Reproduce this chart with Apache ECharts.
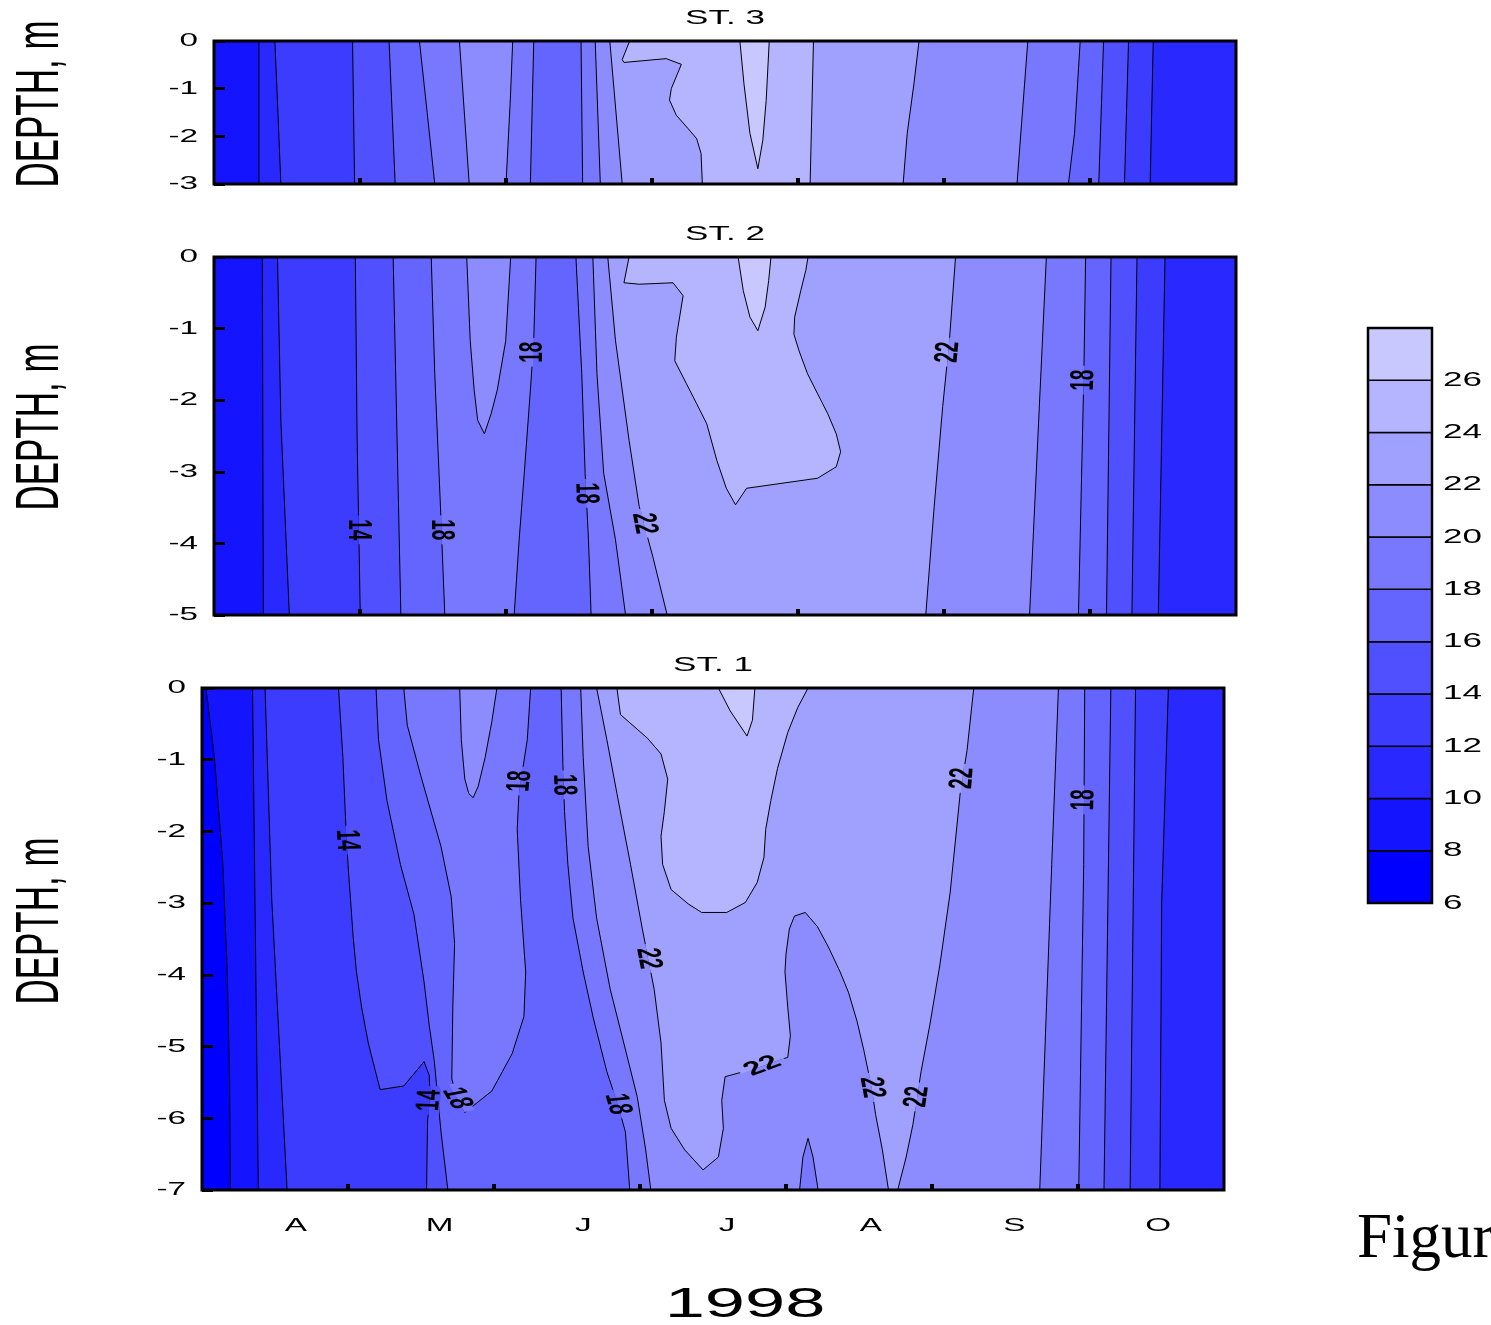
<!DOCTYPE html>
<html><head><meta charset="utf-8">
<script src="https://cdn.jsdelivr.net/npm/echarts@6/dist/echarts.min.js"></script>
<style>html,body{margin:0;padding:0;background:#fff}#c{width:1491px;height:1325px}</style>
</head><body><div id="c"></div>
<script>
// ---------------- DATA ----------------
// temperature class limits (deg C) and colours of the classes
const LEVELS = [6, 8, 10, 12, 14, 16, 18, 20, 22, 24, 26, 28];
const BAND_COLORS = ['#0000ff','#1414ff','#2828ff','#3c3cff','#5050ff','#6464ff','#7878ff','#8c8cff','#a0a0ff','#b4b4ff','#c8c8ff'];
const COLORBAR_TICKS = [6, 8, 10, 12, 14, 16, 18, 20, 22, 24, 26];
// x = month number (4 = 1 April ... 11 = 1 November 1998)
const MONTH_TICKS = [5, 6, 7, 8, 9, 10];
const MONTH_LABELS = ['A', 'M', 'J', 'J', 'A', 'S', 'O'];
const YEAR_LABEL = '1998';
const DEPTH_TICKS_ST3 = [0, -1, -2, -3];
const DEPTH_TICKS_ST2 = [0, -1, -2, -3, -4, -5];
const DEPTH_TICKS_ST1 = [0, -1, -2, -3, -4, -5, -6, -7];

// isotherms: [month, depth] points
const st3Isolines = [
  {id:'a', level:10, pts:[[4.308,0],[4.308,-3]]},
  {id:'b', level:12, pts:[[4.417,0],[4.438,-1.5],[4.458,-3]]},
  {id:'c', level:14, pts:[[4.949,0],[4.963,-3]]},
  {id:'d', level:16, pts:[[5.199,0],[5.241,-3]]},
  {id:'e', level:18, pts:[[5.407,0],[5.46,-1.5],[5.512,-3]]},
  {id:'f', level:20, pts:[[5.681,0],[5.748,-3]]},
  {id:'g', level:20, pts:[[6.046,0],[6.03,-1.2],[6.0,-3]]},
  {id:'h', level:18, pts:[[6.19,0],[6.167,-3]]},
  {id:'i', level:18, pts:[[6.514,0],[6.525,-3]]},
  {id:'j', level:20, pts:[[6.611,0],[6.646,-3]]},
  {id:'k', level:22, pts:[[6.711,0],[6.796,-3]]},
  {id:'C', level:24, pts:[[6.847,0],[6.796,-0.39],[6.808,-0.45],[7.097,-0.37],[7.201,-0.49],[7.132,-1.0],[7.12,-1.24],[7.167,-1.56],[7.248,-1.84],[7.306,-2.05],[7.336,-2.36],[7.345,-3]]},
  {id:'S', level:26, pts:[[7.602,0],[7.63,-0.9],[7.671,-1.94],[7.725,-2.68],[7.759,-2.08],[7.782,-1.245],[7.803,0]]},
  {id:'l', level:24, pts:[[8.106,0],[8.083,-3]]},
  {id:'m', level:22, pts:[[8.829,0],[8.794,-0.9],[8.748,-1.94],[8.72,-3]]},
  {id:'n', level:20, pts:[[9.574,0],[9.5,-3]]},
  {id:'o', level:18, pts:[[9.933,0],[9.894,-1.94],[9.852,-3]]},
  {id:'p', level:16, pts:[[10.093,0],[10.06,-3]]},
  {id:'q', level:14, pts:[[10.264,0],[10.236,-3]]},
  {id:'r', level:12, pts:[[10.433,0],[10.412,-3]]}
];
const st3Regions = [['a','BR','TR'],['b','-r'],['c','-q'],['d','-p'],['e','-h'],['i','-o'],['f','-g'],['j','-n'],['k','-m'],['C','-l'],['S']];
const st3Labels = [];

const st2Isolines = [
  {id:'A1', level:10, pts:[[4.331,0],[4.338,-5]]},
  {id:'A2', level:12, pts:[[4.435,0],[4.458,-2.28],[4.516,-5]]},
  {id:'A3', level:14, pts:[[4.968,0],[4.98,-2.5],[5.002,-5]]},
  {id:'A4', level:16, pts:[[5.227,0],[5.28,-5]]},
  {id:'A5', level:18, pts:[[5.488,0],[5.512,-1.63],[5.551,-3.48],[5.581,-5]]},
  {id:'A6', level:20, pts:[[5.731,0],[5.755,-1.17],[5.782,-1.86],[5.806,-2.28],[5.852,-2.47],[5.898,-2.19],[5.94,-1.86],[5.998,-1.17],[6.032,0]]},
  {id:'A7', level:18, pts:[[6.206,0],[6.19,-1.17],[6.167,-1.86],[6.125,-3.02],[6.09,-3.95],[6.056,-5]]},
  {id:'A8', level:18, pts:[[6.479,0],[6.519,-1.63],[6.542,-3.02],[6.565,-3.95],[6.583,-5]]},
  {id:'A9', level:20, pts:[[6.595,0],[6.623,-1.63],[6.669,-3.02],[6.75,-3.95],[6.819,-5]]},
  {id:'A10', level:22, pts:[[6.697,0],[6.75,-1.17],[6.843,-2.56],[6.912,-3.48],[7.005,-4.18],[7.104,-5]]},
  {id:'C2', level:24, pts:[[6.843,0],[6.808,-0.36],[6.912,-0.38],[7.144,-0.36],[7.213,-0.54],[7.167,-1.12],[7.156,-1.45],[7.236,-1.77],[7.306,-2.05],[7.375,-2.33],[7.444,-2.84],[7.509,-3.23],[7.572,-3.46],[7.648,-3.23],[8.134,-3.09],[8.262,-2.93],[8.292,-2.72],[8.262,-2.47],[8.204,-2.19],[8.134,-1.91],[8.065,-1.63],[8.007,-1.31],[7.972,-1.08],[7.977,-0.84],[8.019,-0.47],[8.053,-0.19],[8.069,0]]},
  {id:'S2', level:26, pts:[[7.59,0],[7.625,-0.47],[7.671,-0.84],[7.725,-1.03],[7.775,-0.7],[7.799,-0.33],[7.815,0]]},
  {id:'A11', level:22, pts:[[9.079,0],[9.037,-1.17],[8.991,-2.09],[8.933,-3.48],[8.875,-5]]},
  {id:'A12', level:20, pts:[[9.701,0],[9.586,-5]]},
  {id:'A13', level:18, pts:[[9.97,0],[9.958,-1.63],[9.921,-5]]},
  {id:'A14', level:16, pts:[[10.144,0],[10.113,-5]]},
  {id:'A15', level:14, pts:[[10.322,0],[10.287,-5]]},
  {id:'A16', level:12, pts:[[10.514,0],[10.468,-5]]}
];
const st2Regions = [['A1','BR','TR'],['A2','-A16'],['A3','-A15'],['A4','-A14'],['A5','-A7'],['A8','-A13'],['A6'],['A9','-A12'],['A10','-A11'],['C2'],['S2']];
// [month, depth, text, angle of the text as seen (deg)]
const st2Labels = [
  [4.99,-3.81,'14',-90],[5.557,-3.81,'18',-90],[6.185,-1.33,'18',90],[6.546,-3.30,'18',-88],
  [6.944,-3.72,'22',-79],[9.029,-1.33,'22',85],[9.958,-1.72,'18',88]
];

const st1Isolines = [
  {id:'B1', level:8, pts:[[4.027,0],[4.085,-0.97],[4.143,-2.46],[4.173,-3.96],[4.189,-5.45],[4.194,-7]]},
  {id:'B2', level:10, pts:[[4.346,0],[4.366,-3.5],[4.386,-7]]},
  {id:'B3', level:12, pts:[[4.432,0],[4.478,-2.96],[4.583,-7]]},
  {id:'B4', level:14, pts:[[4.935,0],[4.965,-0.97],[4.984,-1.87],[5.0,-2.46],[5.035,-3.46],[5.058,-3.96],[5.093,-4.45],[5.139,-4.95],[5.22,-5.6],[5.382,-5.55],[5.521,-5.21],[5.556,-5.4],[5.563,-5.7],[5.545,-6.04],[5.538,-7]]},
  {id:'B5', level:16, pts:[[5.192,0],[5.209,-0.72],[5.267,-1.57],[5.359,-2.46],[5.452,-3.16],[5.521,-4.1],[5.556,-4.7],[5.591,-5.2],[5.637,-6.19],[5.684,-7]]},
  {id:'B6', level:18, pts:[[5.382,0],[5.406,-0.52],[5.498,-1.22],[5.637,-2.21],[5.707,-2.91],[5.73,-3.56],[5.718,-4.45],[5.711,-5.45],[5.753,-5.77],[5.8,-5.92],[5.985,-5.62],[6.124,-5.1],[6.205,-4.58],[6.217,-3.96],[6.182,-2.96],[6.159,-1.97],[6.171,-1.47],[6.228,-0.72],[6.251,0]]},
  {id:'B7', level:20, pts:[[5.765,0],[5.776,-0.72],[5.8,-1.27],[5.827,-1.47],[5.857,-1.53],[5.892,-1.37],[5.939,-0.97],[5.985,-0.47],[6.02,0]]},
  {id:'B8', level:18, pts:[[6.46,0],[6.472,-1.07],[6.483,-1.72],[6.506,-2.46],[6.541,-3.21],[6.611,-3.96],[6.68,-4.6],[6.773,-5.35],[6.847,-5.8],[6.9,-6.19],[6.93,-7]]},
  {id:'B9', level:20, pts:[[6.594,0],[6.611,-0.97],[6.645,-2.21],[6.703,-3.21],[6.796,-4.2],[6.889,-4.95],[6.981,-5.7],[7.039,-6.44],[7.074,-7]]},
  {id:'T20', level:20, pts:[[8.093,-7],[8.116,-6.54],[8.151,-6.28],[8.185,-6.54],[8.22,-7]]},
  {id:'B10', level:22, pts:[[6.703,0],[6.773,-0.72],[6.842,-1.47],[6.935,-2.46],[7.016,-3.36],[7.097,-4.2],[7.144,-4.95],[7.167,-5.75],[7.213,-6.14],[7.306,-6.44],[7.432,-6.72],[7.537,-6.54],[7.571,-6.14],[7.56,-5.75],[7.583,-5.42],[7.71,-5.35],[7.838,-5.27],[8.012,-5.15],[8.03,-4.85],[8.012,-4.45],[7.993,-3.96],[8.0,-3.71],[8.023,-3.36],[8.058,-3.18],[8.132,-3.13],[8.216,-3.33],[8.29,-3.61],[8.371,-3.96],[8.429,-4.25],[8.487,-4.65],[8.533,-5.05],[8.586,-5.57],[8.614,-5.95],[8.66,-6.44],[8.702,-7]]},
  {id:'R22', level:22, pts:[[9.286,0],[9.24,-0.87],[9.193,-1.47],[9.124,-2.86],[9.054,-3.86],[8.985,-4.7],[8.925,-5.35],[8.869,-6.09],[8.823,-6.54],[8.765,-7]]},
  {id:'C1', level:24, pts:[[6.842,0],[6.866,-0.37],[7.051,-0.7],[7.144,-0.92],[7.19,-1.27],[7.167,-1.72],[7.144,-2.07],[7.155,-2.46],[7.213,-2.81],[7.33,-3.01],[7.422,-3.13],[7.594,-3.13],[7.722,-2.99],[7.803,-2.71],[7.849,-2.36],[7.861,-1.97],[7.896,-1.57],[7.942,-1.12],[8.012,-0.62],[8.081,-0.27],[8.151,0]]},
  {id:'S1', level:26, pts:[[7.537,0],[7.618,-0.32],[7.733,-0.67],[7.77,-0.45],[7.787,0]]},
  {id:'B12', level:20, pts:[[9.866,0],[9.82,-2.46],[9.738,-7]]},
  {id:'B13', level:18, pts:[[10.046,0],[10.039,-2.46],[10.005,-7]]},
  {id:'B14', level:16, pts:[[10.225,0],[10.178,-7]]},
  {id:'B15', level:14, pts:[[10.394,0],[10.357,-7]]},
  {id:'B16', level:12, pts:[[10.619,0],[10.573,-3],[10.561,-7]]}
];
const st1Regions = [['B1','BR','TR'],['B2','BR','TR'],['B3','-B16'],['B4','-B15'],['B5','-B14'],['B6'],['B8','-B13'],['B7'],['B9','T20','-B12'],['B10','-R22'],['C1'],['S1']];
const st1Labels = [
  [4.99,-2.12,'14',-86],[6.18,-1.3,'18',84],[6.476,-1.35,'18',-88],[7.055,-3.77,'22',-79],
  [5.56,-5.75,'14',85],[5.745,-5.72,'18',-60],[6.845,-5.8,'18',-73],[7.84,-5.27,'22',20],
  [8.586,-5.57,'22',-80],[8.899,-5.7,'22',82],[9.21,-1.26,'22',85],[10.042,-1.56,'18',88]
];

// ---------------- LAYOUT / STYLE ----------------
const X_MIN = 4, X_MAX = 11;
const STRETCH = 1.75;
const FONT = '"Liberation Sans", Arial, Helvetica, sans-serif';
const LABEL_SIZE = 19;
const PANELS = [
  {title:'ST. 3', lines:st3Isolines, regions:st3Regions, labels:st3Labels, base:8, ticks:DEPTH_TICKS_ST3, rect:{left:214, top:41, width:1022, height:143}, depthY:104},
  {title:'ST. 2', lines:st2Isolines, regions:st2Regions, labels:st2Labels, base:8, ticks:DEPTH_TICKS_ST2, rect:{left:214, top:257, width:1022, height:358}, depthY:427},
  {title:'ST. 1', lines:st1Isolines, regions:st1Regions, labels:st1Labels, base:6, ticks:DEPTH_TICKS_ST1, rect:{left:202, top:688, width:1022, height:502}, depthY:921}
];

function bandColor(level) { return BAND_COLORS[Math.round((level - LEVELS[0]) / 2)]; }
function toRot(a) { const r = a * Math.PI / 180; return Math.atan2(STRETCH * Math.sin(r), Math.cos(r)); }

function buildPolys(p) {
  const H = -p.ticks[p.ticks.length - 1];
  const lineMap = {}; p.lines.forEach(l => { lineMap[l.id] = l; });
  const corners = {TL:[X_MIN,0], TR:[X_MAX,0], BR:[X_MAX,-H], BL:[X_MIN,-H]};
  const polys = [{level:p.base, poly:[corners.TL, corners.TR, corners.BR, corners.BL]}];
  p.regions.forEach(parts => {
    let poly = [], level = null;
    parts.forEach(tok => {
      if (corners[tok]) { poly.push(corners[tok]); return; }
      const rev = tok[0] === '-';
      const l = lineMap[rev ? tok.slice(1) : tok];
      if (level === null) level = l.level;
      const pts = l.pts.slice(); if (rev) pts.reverse();
      poly = poly.concat(pts);
    });
    polys.push({level, poly});
  });
  polys.sort((a, b) => a.level - b.level);
  return polys;
}
function inPoly(pt, poly) {
  let inside = false;
  for (let i = 0, j = poly.length - 1; i < poly.length; j = i++) {
    const xi = poly[i][0], yi = poly[i][1], xj = poly[j][0], yj = poly[j][1];
    if (((yi > pt[1]) !== (yj > pt[1])) && (pt[0] < (xj - xi) * (pt[1] - yi) / (yj - yi) + xi)) inside = !inside;
  }
  return inside;
}
function textEl(x, y, text, o) {
  const style = {text, font:o.font, fill:'#000', align:o.align || 'center', verticalAlign:'middle',
                 textAlign:o.align || 'center', textVerticalAlign:'middle'};
  return {type:'group', x, y, scaleX:STRETCH, silent:true,
          children:[{type:'text', rotation:o.rot ? toRot(o.rot) : 0, style}]};
}
function textSeries(gi, items, z) {
  return {type:'custom', xAxisIndex:gi, yAxisIndex:gi, z:z || 5, silent:true, animation:false,
    data:items.map(it => it.v),
    renderItem:(params, api) => {
      const it = items[params.dataIndex];
      const c = api.coord(it.v);
      return textEl(c[0] + (it.dx || 0), c[1] + (it.dy || 0), it.text, it);
    }};
}

const grids = [], xAxes = [], yAxes = [], series = [];
PANELS.forEach((p, gi) => {
  const H = -p.ticks[p.ticks.length - 1];
  grids.push(Object.assign({show:true, borderColor:'#000', borderWidth:3, backgroundColor:'transparent', z:10}, p.rect));
  xAxes.push({gridIndex:gi, type:'value', position:'bottom', min:X_MIN, max:X_MAX, interval:1, z:11,
    axisLine:{show:false, onZero:false}, splitLine:{show:false}, axisLabel:{show:false},
    axisTick:{show:true, inside:true, length:6, lineStyle:{color:'#000', width:4}, customValues:MONTH_TICKS}});
  yAxes.push({gridIndex:gi, type:'value', position:'left', min:-H, max:0, interval:1, z:11,
    axisLine:{show:false, onZero:false}, splitLine:{show:false}, axisLabel:{show:false},
    axisTick:{show:true, inside:true, length:11, lineStyle:{color:'#000', width:3}}});
  const polys = buildPolys(p);
  series.push({type:'custom', xAxisIndex:gi, yAxisIndex:gi, z:2, silent:true, animation:false,
    data:polys.map(q => q.poly[0]),
    renderItem:(params, api) => {
      const q = polys[params.dataIndex];
      return {type:'polygon', shape:{points:q.poly.map(pt => api.coord(pt))}, style:{fill:bandColor(q.level)}};
    }});
  series.push({type:'custom', xAxisIndex:gi, yAxisIndex:gi, z:3, silent:true, animation:false,
    data:p.lines.map(l => l.pts[0]),
    renderItem:(params, api) => {
      const l = p.lines[params.dataIndex];
      return {type:'polyline', shape:{points:l.pts.map(pt => api.coord(pt))},
              style:{fill:'none', stroke:'#000', lineWidth:1}};
    }});
  // contour labels: the line is hidden under the text by two half-boxes of the colours on each side
  if (p.labels.length) series.push({type:'custom', xAxisIndex:gi, yAxisIndex:gi, z:4, silent:true, animation:false,
    data:p.labels.map(l => [l[0], l[1]]),
    renderItem:(params, api) => {
      const l = p.labels[params.dataIndex];
      const c = api.coord([l[0], l[1]]);
      const r = toRot(l[3]);
      const pix = polys.map(q => ({level:q.level, poly:q.poly.map(pt => api.coord(pt))}));
      const bandAt = pt => { let lev = p.base; pix.forEach(q => { if (inPoly(pt, q.poly)) lev = q.level; }); return bandColor(lev); };
      const d = 4;
      const ox = STRETCH * d * Math.sin(r), oy = d * Math.cos(r);
      const colA = bandAt([c[0] - ox, c[1] - oy]);
      const colB = bandAt([c[0] + ox, c[1] + oy]);
      const w = l[2].length * 0.6 * LABEL_SIZE + 6, h = 12;
      return {type:'group', x:c[0], y:c[1], scaleX:STRETCH, silent:true, children:[
        {type:'group', rotation:r, children:[
          {type:'rect', shape:{x:-w / 2, y:-h / 2, width:w, height:h / 2}, style:{fill:colA}},
          {type:'rect', shape:{x:-w / 2, y:0, width:w, height:h / 2}, style:{fill:colB}},
          {type:'text', style:{text:l[2], font:'bold ' + LABEL_SIZE + 'px ' + FONT, fill:'#000',
            align:'center', verticalAlign:'middle', textAlign:'center', textVerticalAlign:'middle'}}
        ]}]};
    }});
  const tickItems = p.ticks.map(t => ({v:[X_MIN, t], text:String(t), dx:-16, align:'right', font:'19px ' + FONT}));
  tickItems.push({v:[(X_MIN + X_MAX) / 2, 0], text:p.title, dy:-23, font:'20px ' + FONT});
  series.push(textSeries(gi, tickItems, 5));
});

// colour bar
const CB = 3;
grids.push({left:1368, top:328, width:64, height:575, show:true, borderColor:'#000', borderWidth:2.5, backgroundColor:'transparent', z:10});
xAxes.push({gridIndex:CB, type:'value', min:0, max:1, show:false});
yAxes.push({gridIndex:CB, type:'value', min:LEVELS[0], max:LEVELS[LEVELS.length - 1], interval:2, show:false});
series.push({type:'custom', xAxisIndex:CB, yAxisIndex:CB, z:2, silent:true, animation:false,
  data:LEVELS.slice(0, -1).map(lo => [0.5, lo]),
  renderItem:(params, api) => {
    const i = params.dataIndex;
    const a = api.coord([0, LEVELS[i + 1]]), b = api.coord([1, LEVELS[i]]);
    return {type:'rect', shape:{x:a[0], y:a[1], width:b[0] - a[0], height:b[1] - a[1]},
            style:{fill:BAND_COLORS[i], stroke:'#000', lineWidth:1.5}};
  }});
series.push(textSeries(CB, COLORBAR_TICKS.map(t => ({v:[1, t], text:String(t), dx:11, align:'left', font:'20px ' + FONT})), 5));

// month labels
const MG = 4;
grids.push({left:224, top:1216, width:1006, height:20, show:false});
xAxes.push({gridIndex:MG, type:'value', min:X_MIN, max:X_MAX, show:false});
yAxes.push({gridIndex:MG, type:'value', min:0, max:1, show:false});
series.push(textSeries(MG, MONTH_LABELS.map((m, i) => ({v:[X_MIN + 0.5 + i, 0.5], text:m, font:'19px ' + FONT})), 5));

function gText(x, y, text, font, sx, rot, align) {
  return {type:'group', x, y, scaleX:sx, silent:true, children:[{type:'text', rotation:rot || 0,
    style:{text, font, fill:'#000', align:align || 'center', verticalAlign:'middle', textAlign:align || 'center', textVerticalAlign:'middle'}}]};
}
const graphics = [gText(745, 1305, YEAR_LABEL, '42px ' + FONT, 1.72, 0)];
PANELS.forEach(p => graphics.push(gText(41, p.depthY, 'DEPTH, m', '35px ' + FONT, STRETCH, Math.PI / 2)));
graphics.push(gText(1357, 1240, 'Figur', '63px "Liberation Serif", "Times New Roman", serif', 1, 0, 'left'));

const chart = echarts.init(document.getElementById('c'), null, {renderer:'canvas'});
chart.setOption({
  animation:false,
  backgroundColor:'#fff',
  grid:grids, xAxis:xAxes, yAxis:yAxes, series,
  graphic:{elements:graphics}
});
</script></body></html>
